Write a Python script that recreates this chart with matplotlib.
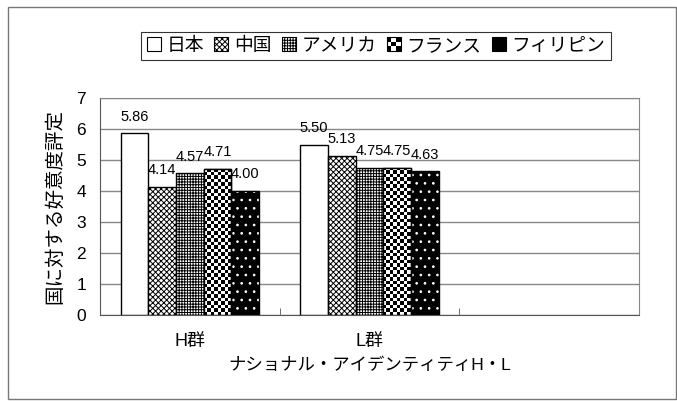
import numpy as np
import matplotlib.pyplot as plt
from matplotlib.patches import Rectangle
from matplotlib.collections import PatchCollection
from matplotlib.legend_handler import HandlerBase

plt.rcParams['font.family'] = ['Liberation Sans', 'Noto Sans CJK JP']
plt.rcParams['hatch.linewidth'] = 0.7

# 好意度評定の平均値（H群, L群）
groups = ['H群', 'L群', '']
countries = ['日本', '中国', 'アメリカ', 'フランス', 'フィリピン']
h_scores = [5.86, 4.14, 4.57, 4.71, 4.00]
l_scores = [5.50, 5.13, 4.75, 4.75, 4.63]
y_ticks = [0, 1, 2, 3, 4, 5, 6, 7]


class CheckerHandler(HandlerBase):
    """市松模様の凡例マーカー"""
    def create_artists(self, legend, orig_handle, xdescent, ydescent,
                       width, height, fontsize, trans):
        n = 3
        cw, ch = width / n, height / n
        cells, colors = [], []
        for r in range(n):
            for c in range(n):
                cells.append(Rectangle((-xdescent + c * cw, -ydescent + r * ch), cw, ch))
                colors.append('black' if (r + c) % 2 == 0 else 'white')
        pc = PatchCollection(cells, facecolors=colors, edgecolors='none', transform=trans)
        frame = Rectangle((-xdescent, -ydescent), width, height, facecolor='none',
                          edgecolor='black', lw=0.8, transform=trans)
        return [pc, frame]


def checker_fill(ax, bar, ncols=8):
    """棒の中を市松模様で塗る"""
    x0, y0 = bar.get_x(), bar.get_y()
    w, h = bar.get_width(), bar.get_height()
    # 1セルをほぼ正方形にする
    p0 = ax.transData.transform((x0, y0))
    p1 = ax.transData.transform((x0 + w, y0 + h))
    cell = (p1[0] - p0[0]) / ncols
    nrows = max(1, int(round((p1[1] - p0[1]) / cell)))
    pattern = np.add.outer(np.arange(nrows), np.arange(ncols)) % 2
    im = ax.imshow(pattern, cmap='gray', extent=(x0, x0 + w, y0, y0 + h),
                   aspect='auto', interpolation='nearest', origin='lower', zorder=2)
    im.set_clip_path(bar)


fig = plt.figure(figsize=(6.77, 4.01), dpi=100)
ax = fig.add_axes([100 / 677, 86 / 401, 539 / 677, 217 / 401])

# 外枠
fig.patches.append(Rectangle((8 / 677, 2 / 401), 668 / 677, 392 / 401,
                             transform=fig.transFigure, facecolor='none',
                             edgecolor='#777777', lw=1))

x = np.arange(2)
width = 0.154
scores = np.array([h_scores, l_scores]).T

ax.set_xlim(-0.5, 2.5)
ax.set_ylim(0, 7)

styles = [
    dict(facecolor='white', hatch=None),
    dict(facecolor='white', hatch='xxxxxx'),
    dict(facecolor='white', hatch='++++++'),
    dict(facecolor='white', hatch=None),
    dict(facecolor='black', hatch=None),
]

for i, name in enumerate(countries):
    pos = x + (i - 2) * width
    if i == 4:
        # 黒地に白い点
        ax.bar(pos, scores[i], width, facecolor='black', edgecolor='white',
               hatch='..', lw=0, zorder=2)
        bars = ax.bar(pos, scores[i], width, fill=False, edgecolor='black', lw=1, zorder=3)
    else:
        bars = ax.bar(pos, scores[i], width, edgecolor='black', lw=1, zorder=2, **styles[i])
        if i == 3:
            for b in bars:
                checker_fill(ax, b)
            ax.bar(pos, scores[i], width, fill=False, edgecolor='black', lw=1, zorder=3)
    ax.bar_label(bars, fmt='%.2f', padding=7, fontsize=10.5)

ax.set_yticks(y_ticks)
ax.set_xticks(np.arange(len(groups)))
ax.set_xticklabels(groups, fontsize=13)
ax.set_xticks([0.5, 1.5], minor=True)
ax.tick_params(axis='y', length=0, pad=10, labelsize=12.5)
ax.tick_params(axis='x', which='major', length=0, pad=13)
ax.tick_params(axis='x', which='minor', direction='in', length=5, color='#555555')
ax.grid(axis='y', color='#888888', lw=1)
ax.set_axisbelow(True)
for side in ['top', 'right']:
    ax.spines[side].set_color('#888888')
for side in ['left', 'bottom']:
    ax.spines[side].set_color('#555555')

ax.set_ylabel('国に対する好意度評定', fontsize=14, labelpad=9)
ax.set_xlabel('ナショナル・アイデンティティH・L', fontsize=12.5, labelpad=5)

handles = [Rectangle((0, 0), 1, 1, facecolor=s['facecolor'], edgecolor='black',
                     hatch=s['hatch'], lw=0.8) for s in styles]
leg = fig.legend(handles, countries, loc='center', bbox_to_anchor=(376 / 677, 1 - 46 / 401),
                 ncol=5, frameon=True, fancybox=False, edgecolor='black', fontsize=13.5,
                 handlelength=0.75, handleheight=0.75, handletextpad=0.3,
                 columnspacing=0.55, borderpad=0.3,
                 handler_map={handles[3]: CheckerHandler()})
leg.get_frame().set_linewidth(0.8)

fig.savefig('out.png', dpi=100)
